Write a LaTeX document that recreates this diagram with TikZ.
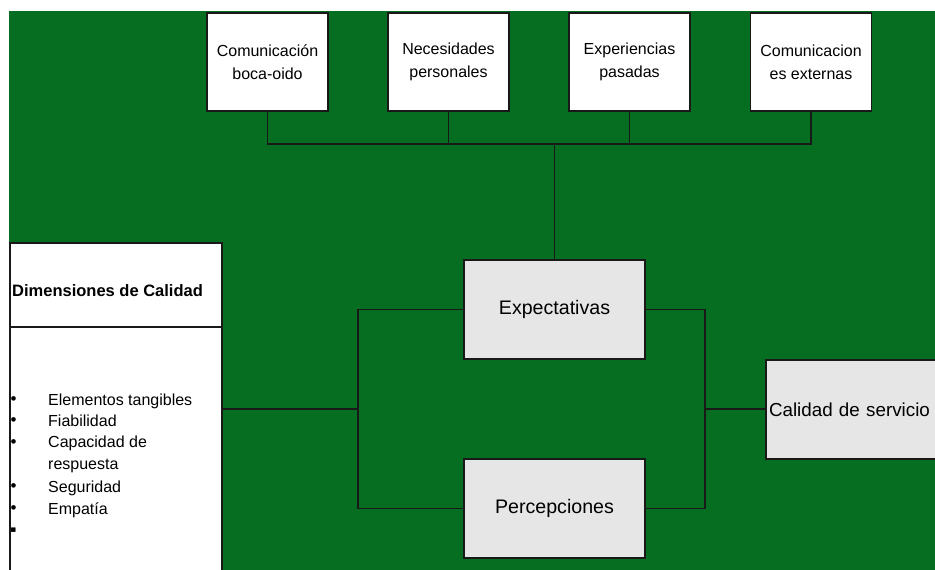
\documentclass[tikz,border=0pt]{standalone}
\usepackage{fontspec}
\setmainfont{Liberation Sans}
\newfontfamily\dejavu{DejaVu Sans}
\definecolor{bggreen}{RGB}{6,110,32}
\definecolor{boxgrey}{RGB}{230,230,230}
\definecolor{edge}{RGB}{25,25,25}
\begin{document}
\begin{tikzpicture}[x=1pt,y=-1pt,
  conn/.style={draw=edge,line width=1.4pt},
  topbox/.style={draw=edge,line width=1.4pt,fill=white,minimum width=121pt,minimum height=98pt,inner sep=0pt,align=center,font=\fontsize{16}{23}\selectfont},
  greybox/.style={draw=edge,line width=1.4pt,fill=boxgrey,minimum width=181pt,minimum height=99pt,inner sep=0pt,font=\fontsize{19.6}{23}\selectfont},
  dimbox/.style={draw=edge,line width=1.4pt,fill=white,minimum width=212pt,inner sep=0pt},
  item/.style={anchor=west,inner sep=0pt,text height=11.5pt,text depth=3.5pt,font=\fontsize{16}{19}\selectfont},
  bul/.style={anchor=center,inner sep=0pt,font=\fontsize{17}{19}\selectfont}
]
\useasboundingbox (0,0) rectangle (935,570);
\clip (0,0) rectangle (935,570);
\fill[white] (0,0) rectangle (935,570);
\fill[bggreen] (9,11) rectangle (935,570);

% top boxes
\node[topbox] (c1) at (267.5,62) {Comunicación\\boca-oido};
\node[topbox] (c2) at (448.5,62) {Necesidades\\personales};
\node[topbox] (c3) at (629.5,62) {Experiencias\\pasadas};
\node[topbox] (c4) at (811,62) {Comunicacion\\es externas};

\coordinate (j1) at (267.5,144);
\coordinate (j2) at (448.5,144);
\coordinate (j3) at (629.5,144);
\coordinate (j4) at (811,144);
\coordinate (jm) at (554.5,144);

% middle boxes
\node[greybox] (exp) at (554.5,309.5) {Expectativas};
\node[greybox] (per) at (554.5,508.5) {Percepciones};
\node[draw=edge,line width=1.4pt,fill=boxgrey,minimum height=99pt,text width=232pt,inner xsep=3pt,inner ysep=0pt,align=left,font=\fontsize{18.8}{23}\selectfont] (cal) at (885,409.5) {Calidad de servicio};

% dimensions box
\node[dimbox,minimum height=84pt] (dimhead) at (116,285) {};
\node[dimbox,minimum height=273pt] (dimlist) at (116,463.5) {};
\node[anchor=west,inner sep=0pt,font=\fontsize{16.5}{19}\selectfont\bfseries] (dimtitle) at (12,291) {Dimensiones de Calidad};

\node[bul] (b1) at (13.5,401) {•};
\node[item] (t1) at (48,401) {Elementos tangibles};
\node[bul] (b2) at (13.5,422) {•};
\node[item] (t2) at (48,422) {Fiabilidad};
\node[bul] (b3) at (13.5,443.5) {•};
\node[item] (t3) at (48,443.5) {Capacidad de};
\node[item] (t3b) at (48,465) {respuesta};
\node[bul] (b4) at (13.5,488) {•};
\node[item] (t4) at (48,488) {Seguridad};
\node[bul] (b5) at (13.5,510) {•};
\node[item] (t5) at (48,510) {Empatía};
\node[bul,font=\dejavu\fontsize{9}{10}\selectfont] (b6) at (13.5,530) {▪};

% connector coordinates
\coordinate (lm) at (358,409);
\coordinate (rm) at (705,409);

% connectors
\draw[conn] (c1.south) -- (j1) -- (j4) -- (c4.south);
\draw[conn] (c2.south) -- (j2);
\draw[conn] (c3.south) -- (j3);
\draw[conn] (jm) -- (exp.north);
\draw[conn] (exp.west) -| (lm) |- (per.west);
\draw[conn] (exp.east) -| (rm) |- (per.east);
\draw[conn] (dimlist.east |- lm) -- (lm);
\draw[conn] (rm) -- (cal.west |- rm);
\end{tikzpicture}
\end{document}
